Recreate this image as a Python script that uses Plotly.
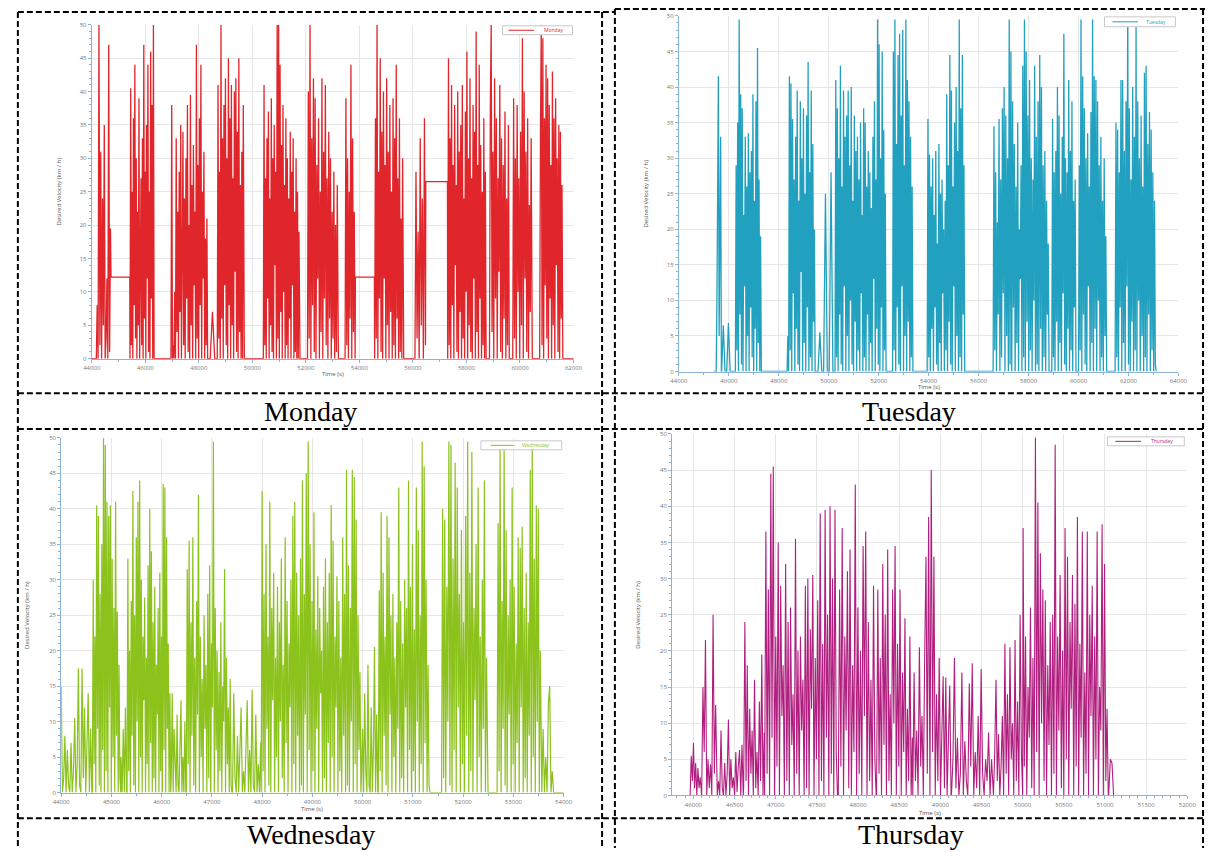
import numpy as np
import plotly.graph_objects as go

# ---------------------------------------------------------------- data
# Each day: list of (start, end) time windows in seconds and the
# velocity samples (km/h) recorded inside each window.
MON_SEGMENTS = [(44000, 44160), (44170, 44700), (44720, 45420), (45430, 46330), (46340, 46950),
                (46960, 48330), (48340, 48680), (48690, 49690), (49700, 50400), (50410, 51770),
                (51780, 52050), (52060, 53205), (53215, 53455), (53465, 53840), (53850, 54560),
                (54570, 55645), (55655, 56065), (56075, 56470), (56480, 57290), (57300, 58735),
                (58745, 58850), (58860, 59600), (59610, 59720), (59730, 60450), (60460, 60725),
                (60735, 61600), (61610, 62000)]
MON_VALUES = [
    [0, 0],
    [0, 8, 0, 50, 2, 31, 0, 24, 5, 35, 0, 3, 12, 0, 47, 1, 19.5],
    [12.2, 12.2],
    [0, 40.5, 2, 25, 0, 36, 8, 44, 3, 30, 0, 22, 5, 39, 0, 18, 27, 2, 33, 0, 47, 6, 28, 0, 35, 12, 44, 1, 25, 0, 46, 9, 38, 0, 50, 0],
    [0, 0],
    [0, 38, 0, 2, 0, 10, 0, 33, 4, 22, 0, 28, 7, 35, 0, 15, 34, 2, 24, 0, 30, 9, 38, 1, 20, 0, 39.5, 5, 26, 0, 32, 11, 22, 0, 47, 3, 29, 0, 36, 8, 44, 0, 25, 12, 31, 0, 18, 2, 21, 0],
    [0, 0, 7, 0, 0],
    [0, 41, 3, 28, 0, 50, 6, 33, 0, 38, 11, 42, 2, 30, 0, 45, 8, 36, 0, 41, 5, 27, 0, 40, 13, 42, 1, 34, 0, 45, 4, 26, 0, 31, 0, 38, 0],
    [0, 0],
    [0, 41, 2, 27, 0, 33, 9, 37, 0, 24, 5, 39, 1, 30, 0, 35, 14, 28, 0, 50, 3, 50, 0, 44, 7, 32, 0, 38, 10, 26, 0, 36, 2, 30, 0, 24, 6, 34, 0, 28, 11, 33, 0, 22, 1, 30, 0, 25, 0, 19, 0],
    [0, 0],
    [0, 40, 3, 50, 0, 33, 8, 42, 1, 39, 0, 29, 12, 36, 0, 25, 4, 42, 0, 31, 9, 41, 2, 27, 0, 34, 6, 30, 0, 22, 3, 28, 0, 20, 1, 26, 0],
    [0, 0],
    [0, 39, 2, 30, 0, 25, 6, 44, 0, 33, 4, 22, 0],
    [12.2, 12.2],
    [0, 36, 3, 50, 0, 28, 9, 45, 1, 34, 0, 40, 12, 29, 0, 42, 5, 31, 0, 38, 7, 25, 0, 39, 2, 33, 0, 44, 6, 27, 0, 36, 1, 21, 0, 30, 0],
    [0, 0],
    [0, 28, 3, 19, 0, 33, 5, 24, 0, 36, 2],
    [26.5, 26.5],
    [0, 45, 2, 33, 0, 41, 8, 29, 0, 38, 14, 26, 1, 40, 0, 31, 7, 35, 0, 41, 3, 24, 0, 37, 10, 46, 0, 30, 5, 42, 1, 27, 0, 38, 12, 34, 0, 49, 4, 29, 0, 44, 9, 32, 0, 25, 2, 36, 0, 28, 0],
    [0, 0],
    [0, 38, 50, 4, 31, 0, 42, 9, 36, 0, 27, 13, 41, 1, 33, 0, 29, 6, 37, 0, 24, 2, 35, 0],
    [0, 0],
    [0, 39, 3, 30, 0, 38, 10, 27, 0, 34, 5, 48, 0, 40, 12, 31, 1, 36, 0, 23, 7, 33, 0],
    [0, 0],
    [0, 33, 50, 2, 48, 0, 36, 11, 44, 3, 42, 0, 38, 9, 29, 0, 43, 5, 36, 0, 39, 14, 30, 1, 35, 0, 34, 6, 26, 0],
    [0, 0],
]

TUE_SEGMENTS = [(45400, 45480), (45490, 45700), (45710, 46050), (46060, 46250), (46260, 47330),
                (47340, 48320), (48330, 49485), (49495, 50240), (50250, 52325), (52335, 52545),
                (52555, 53400), (53410, 53930), (53940, 55475), (55485, 56570), (56580, 58855),
                (58865, 58920), (58930, 59930), (59940, 59995), (60000, 61160), (61170, 61455),
                (61465, 63110)]
TUE_VALUES = [
    [0, 0],
    [0, 9, 38, 41.5, 5, 32, 33, 0],
    [0, 6.5, 0, 0, 6.8, 0],
    [0, 0],
    [0, 29, 3, 35, 0, 49.5, 8, 39, 1, 37, 0, 22, 12, 33, 0, 26, 5, 33.5, 0, 28, 9, 31, 2, 39, 0, 24, 6, 38, 0, 45.5, 4, 27, 0, 19, 0, 0],
    [0, 0],
    [0, 5, 0, 41.5, 3, 40.5, 0, 35.5, 11, 27, 0, 33, 6, 39.5, 1, 24, 0, 38, 14, 30, 0, 37, 4, 25, 0, 36, 9, 43.5, 0, 28, 2, 39.5, 0, 32, 7, 20, 0, 0],
    [0, 0, 5.5, 0, 0, 25, 0, 0, 28, 0, 0],
    [0, 41, 2, 37, 0, 30, 8, 43, 1, 26, 0, 39.5, 12, 33, 0, 36, 5, 39.5, 0, 29, 10, 40, 1, 24, 0, 36, 7, 31, 0, 33, 3, 27, 0, 35, 11, 22, 0, 37, 2, 35, 0, 26, 8, 31, 0, 28, 4, 23, 0, 33, 13, 38, 0, 27, 6, 49.5, 1, 46, 0, 30, 9, 45, 0, 34, 3, 25, 0, 0],
    [0, 0],
    [0, 45, 3, 49.5, 0, 32, 9, 44.5, 1, 47.5, 0, 36, 12, 48, 0, 29, 5, 49.5, 0, 41, 7, 38, 0, 33, 2, 26, 0, 0],
    [0, 0],
    [0, 35.5, 2, 30.5, 0, 26, 6, 30, 0, 22, 9, 31, 1, 18, 0, 32, 4, 25, 0, 27, 11, 20, 0, 24, 3, 39, 0, 29, 7, 44.5, 1, 39.5, 0, 26, 12, 35, 0, 40, 5, 31, 0, 49.5, 2, 37, 0, 44.5, 8, 29, 0, 0],
    [0, 0],
    [0, 34.5, 3, 28, 0, 21, 8, 35.5, 0, 27, 2, 37, 11, 40, 0, 36, 5, 30, 0, 49.5, 1, 45, 0, 38, 9, 32, 0, 26, 4, 35, 0, 20, 13, 29, 0, 43, 2, 49.5, 0, 45, 7, 36, 0, 41, 3, 30, 0, 27, 10, 43, 0, 33, 1, 38, 0, 44.5, 6, 40, 0, 29, 2, 31, 0, 24, 8, 18, 0, 0],
    [0, 0],
    [0, 35.5, 2, 28, 0, 31, 7, 40, 0, 36, 4, 25, 0, 33, 11, 47.5, 1, 30, 0, 28, 6, 41, 0, 31, 3, 38, 0, 24, 9, 27, 0, 0],
    [0, 0],
    [0, 29, 3, 49.5, 0, 41.5, 8, 37, 1, 30, 0, 33.5, 12, 26, 0, 36.5, 4, 49.5, 0, 41.5, 6, 41, 0, 38, 10, 29, 0, 33, 2, 24, 0, 30, 5, 19, 0, 0],
    [0, 0],
    [0, 35, 2, 34, 0, 28, 9, 41, 0, 41, 4, 31, 0, 38, 12, 49.5, 1, 37, 0, 27, 7, 40, 0, 33, 3, 48.5, 0, 38, 10, 30, 0, 36, 5, 26, 0, 42, 2, 43, 0, 32, 8, 36.5, 0, 34, 3, 28, 0, 24, 1, 0],
]

WED_SEGMENTS = [(44000, 44610), (44620, 45185), (45190, 45300), (45310, 46180), (46190, 46480),
                (46490, 47400), (47410, 47970), (47980, 49965), (49975, 50300), (50310, 51340),
                (51350, 51560), (51570, 52485), (52495, 52665), (52675, 53555), (53565, 53800),
                (53810, 54000)]
WED_VALUES = [
    [15, 0, 2, 8, 0, 6, 1, 0, 7, 0, 3, 10.5, 0, 4, 17.5, 1, 0, 17.5, 2, 12, 0, 6, 14, 0, 9, 0],
    [0, 30, 4, 22, 0, 40.5, 9, 39, 1, 28, 0, 35, 6, 50, 0, 49, 3, 41, 0, 39, 12, 40.5, 0, 33, 5, 26, 0, 41, 8, 25.5, 0, 18, 2, 0],
    [5, 0, 9, 0, 12, 0],
    [0, 33, 3, 20, 0, 27, 8, 42.5, 1, 25, 0, 36, 10, 41, 0, 44, 5, 30, 0, 22, 13, 27.5, 0, 19, 4, 32, 0, 40, 7, 34, 0, 24, 2, 29, 0, 18, 11, 26, 0, 31, 3, 22, 0, 43.5, 6, 43, 0, 36, 9, 21, 0, 14, 0],
    [2, 14, 0, 9, 3, 0, 11, 1, 0, 7, 13, 0, 5, 0, 10, 0],
    [0, 31.5, 4, 35.5, 0, 24, 8, 36, 1, 19, 0, 27, 11, 42, 0, 22, 5, 16, 0, 25, 9, 18, 0, 28, 2, 32, 0, 21, 12, 49.5, 0, 26, 6, 20, 0, 17, 3, 24, 0, 15, 10, 31.5, 0, 19, 4, 12, 0, 16, 1, 0],
    [0, 14, 2, 0, 8, 0, 5, 12, 0, 3, 0, 9, 13, 0, 6, 0, 14.5, 1, 0, 11, 0, 4, 0, 7],
    [0, 42.5, 3, 28, 0, 35, 9, 22, 1, 41, 0, 26, 13, 31, 0, 19, 5, 29, 0, 24, 10, 33, 2, 18, 0, 36, 7, 27, 0, 21, 12, 30, 0, 39, 4, 41, 0, 31, 8, 25, 0, 33, 1, 44, 0, 28, 11, 45, 0, 49.5, 6, 35, 0, 27, 3, 39.5, 0, 23, 9, 30.5, 0, 26, 14, 20, 0, 29, 2, 33, 0, 24, 7, 31, 0, 40.5, 5, 35.5, 0, 22, 12, 30.5, 0, 27, 3, 19, 0, 36, 8, 28, 0, 45.5, 1, 32, 0, 26, 10, 45.5, 0, 44.5, 4, 38.5, 0, 25, 6, 17, 0],
    [2, 9, 0, 14, 3, 0, 18, 1, 0, 12, 0, 6, 20.5, 0, 11, 0],
    [0, 28.5, 3, 39.5, 0, 31, 8, 22, 1, 39, 0, 36, 11, 25, 0, 28, 5, 19, 0, 24, 9, 43, 0, 27, 2, 21, 0, 30, 12, 26, 0, 44, 6, 29, 0, 35, 3, 23, 0, 43, 10, 37, 0, 25, 4, 49.5, 0, 46, 7, 30, 0, 18, 1, 0],
    [0, 0],
    [0, 40, 2, 38.5, 0, 29, 10, 49.5, 1, 49, 0, 33, 6, 46.5, 0, 43, 12, 28, 0, 37, 4, 24, 0, 39, 8, 49.5, 0, 31, 3, 48, 0, 26, 13, 35, 0, 43, 5, 22, 0, 30, 9, 44, 0, 19, 0],
    [0, 0],
    [0, 38, 3, 48.5, 0, 27, 9, 48.5, 1, 37, 0, 25, 11, 30, 0, 43, 4, 29, 0, 21, 7, 36, 0, 34.5, 12, 37.5, 0, 26, 2, 31, 0, 24, 8, 45.5, 0, 49.5, 5, 33, 0, 40.5, 10, 40, 0, 20, 0],
    [0, 9, 0, 5, 0, 12.5, 15, 0, 3, 0],
    [0, 0],
]

THU_SEGMENTS = [(45840, 45955), (45960, 46095), (46100, 46285), (46290, 46605), (46610, 46860),
                (46865, 47750), (47760, 48220), (48225, 48660), (48665, 49130), (49135, 49640),
                (49645, 50000), (50005, 51040), (51045, 51105), (51110, 52000)]
THU_VALUES = [
    [0, 0],
    [0, 5.5, 2, 7.3, 1, 4.5, 0, 3.8, 1, 2.5, 0],
    [0, 15, 6, 21.5, 0, 5, 1, 4.3, 0, 25, 3, 12.5, 0],
    [0, 2, 0, 9, 1, 0, 4.5, 0, 3, 10.5, 0, 5, 1, 2.5, 0, 6, 0.5, 4, 6.3, 0, 7, 0],
    [1, 24, 2, 18, 0, 12, 3, 9, 0, 16, 1, 6, 0, 13, 2, 19.5, 0, 8.7],
    [0, 36.5, 3, 28.5, 0, 44.5, 8, 45.5, 0, 22, 4, 35, 0, 29, 11, 18, 0, 32, 2, 24, 0, 26, 7, 14, 0, 35.5, 3, 20, 0, 22, 9, 16, 0, 29, 1, 30, 0, 23, 12, 30.5, 0, 19, 5, 27, 0, 39, 2, 21, 0, 39.5, 8, 25, 0, 40, 3, 30, 0, 39.5, 6, 0],
    [0, 28.5, 4, 37, 0, 22, 9, 31, 1, 34, 0, 18, 6, 43, 0, 26, 3, 20, 0, 34.5, 11, 36.5, 0, 24, 2, 16, 0, 29, 5, 0],
    [0, 28.5, 3, 19, 0, 32, 7, 25, 0, 34, 2, 14, 0, 28.5, 10, 34.5, 0, 21, 4, 28.5, 0, 17, 6, 24.5, 0, 12, 2, 22, 0, 8],
    [0, 17, 2, 9, 0, 20.5, 4, 11, 0, 19, 33, 3, 38.5, 0, 45, 6, 33, 0, 14, 2, 19, 0, 8, 16.5, 1, 16.3, 0, 7, 15.2, 0],
    [0, 5, 19, 1, 8, 0, 3, 17, 0, 7.5, 2, 0, 15.5, 4, 18.3, 0, 6, 1, 11, 0, 17.5, 3, 0, 5, 2, 8.7, 0, 5, 0],
    [0, 6, 16, 2, 8.5, 0, 4, 11, 0, 21, 3, 14, 0, 20.5, 5, 10, 0, 21.5, 2, 13, 0, 25, 6, 0],
    [37, 4, 22, 0, 15, 8, 26, 1, 19, 0, 49.5, 6, 40.5, 0, 33.5, 10, 28.5, 2, 27, 0, 18, 7, 24, 0, 25, 3, 48.5, 0, 22, 9, 30.5, 1, 20, 0, 37, 5, 33, 0, 24, 12, 30.5, 0, 26.5, 4, 38.5, 0, 21, 8, 36.5, 0, 17, 3, 36.5, 0, 25, 11, 29, 0, 22, 5, 36.5, 0, 15, 9, 37.5, 0, 32, 2, 12, 0],
    [0, 5, 4.5, 0],
    [0, 0],
]

DAY_NAMES = ["Monday", "Tuesday", "Wednesday", "Thursday"]
MON_TICKS = [44000, 46000, 48000, 50000, 52000, 54000, 56000, 58000, 60000, 62000]
TUE_TICKS = [44000, 46000, 48000, 50000, 52000, 54000, 56000, 58000, 60000, 62000, 64000]
WED_TICKS = [44000, 45000, 46000, 47000, 48000, 49000, 50000, 51000, 52000, 53000, 54000]
THU_TICKS = [46000, 46500, 47000, 47500, 48000, 48500, 49000, 49500, 50000, 50500, 51000, 51500, 52000]
Y_TICKS = [0, 5, 10, 15, 20, 25, 30, 35, 40, 45, 50]
Y_TITLE = "Desired Velocity (km / h)"
X_TITLE = "Time (s)"

# ---------------------------------------------------------------- helpers
W, H = 1215, 852


def PX(x):
    return x / W


def PY(y):
    return 1 - y / H


def build(segments, values):
    t, v = [], []
    for (a, b), vals in zip(segments, values):
        t.extend(np.linspace(a, b, len(vals)).tolist())
        v.extend(vals)
    return t, v


COLORS = ["#e0262b", "#21a1bf", "#8cc21c", "#b01f7f"]
LINE_W = [1.3, 1.3, 1.2, 1.1]
AXIS_BLUE = "#8db4d8"
GRID = "#e6e6e6"
TICKFONT = dict(family="Open Sans, Arial", size=6, color="#777777")

# panel geometry in page pixels: (left, right, top, bottom)
PANELS = [
    (84, 573, 21, 358),
    (680, 1187, 12, 371),
    (53, 563, 438, 796),
    (673, 1196, 434, 799),
]
XRANGES = [[44000, 62000], [44000, 64000], [44000, 54000], [45740, 52000]]
XTICKS = [MON_TICKS, TUE_TICKS, WED_TICKS, THU_TICKS]
XMINOR = [1000, 1000, 500, 100]
DATA = [(MON_SEGMENTS, MON_VALUES), (TUE_SEGMENTS, TUE_VALUES),
        (WED_SEGMENTS, WED_VALUES), (THU_SEGMENTS, THU_VALUES)]

fig = go.Figure()
layout = dict(width=W, height=H, margin=dict(l=0, r=0, t=0, b=0),
              paper_bgcolor="white", plot_bgcolor="white", showlegend=False)

for i, ((segs, vals), name, color) in enumerate(zip(DATA, DAY_NAMES, COLORS)):
    t, v = build(segs, vals)
    sfx = "" if i == 0 else str(i + 1)
    fig.add_trace(go.Scatter(x=t, y=v, mode="lines", name=name,
                             line=dict(color=color, width=LINE_W[i]),
                             xaxis="x" + sfx, yaxis="y" + sfx, hoverinfo="skip"))
    l, r, tp, bt = PANELS[i]
    layout["xaxis" + sfx] = dict(
        domain=[PX(l), PX(r)], anchor="y" + sfx, range=XRANGES[i],
        tickmode="array", tickvals=XTICKS[i], ticktext=[str(k) for k in XTICKS[i]],
        showgrid=True, gridcolor=GRID, gridwidth=1, zeroline=False,
        showline=True, linecolor=AXIS_BLUE, linewidth=1,
        ticks="outside", ticklen=3, tickcolor=AXIS_BLUE, tickfont=TICKFONT,
        minor=dict(dtick=XMINOR[i], ticks="outside", ticklen=2, tickcolor=AXIS_BLUE, showgrid=False),
    )
    layout["yaxis" + sfx] = dict(
        domain=[PY(bt), PY(tp)], anchor="x" + sfx, range=[0, 50],
        tickmode="array", tickvals=Y_TICKS, ticktext=[str(k) for k in Y_TICKS],
        showgrid=True, gridcolor=GRID, gridwidth=1, zeroline=False,
        showline=True, linecolor=AXIS_BLUE, linewidth=1,
        ticks="outside", ticklen=3, tickcolor=AXIS_BLUE, tickfont=TICKFONT,
        minor=dict(dtick=1, ticks="outside", ticklen=2, tickcolor=AXIS_BLUE, showgrid=False),
    )

shapes = []
annotations = []

# table borders (dashed)
BORDER = dict(color="black", width=2, dash="6px,3px")


def hline(y, x0, x1):
    shapes.append(dict(type="line", xref="paper", yref="paper", x0=PX(x0), x1=PX(x1),
                       y0=PY(y), y1=PY(y), line=BORDER))


def vline(x, y0, y1):
    shapes.append(dict(type="line", xref="paper", yref="paper", x0=PX(x), x1=PX(x),
                       y0=PY(y0), y1=PY(y1), line=BORDER))


hline(8, 9, 615)
hline(5, 615, 1214)
hline(393, 9, 1214)
hline(429, 9, 1214)
hline(822, 9, 1214)
vline(9, 8, 852)
vline(602, 8, 852)
vline(615, 5, 852)
vline(1212, 5, 852)

# captions
CAPTIONS = [(306, 411), (914, 411), (307, 838), (916, 838)]
for name, (cx, cy) in zip(DAY_NAMES, CAPTIONS):
    annotations.append(dict(text=name, x=PX(cx), y=PY(cy), xref="paper", yref="paper",
                            showarrow=False, xanchor="center", yanchor="middle",
                            font=dict(family="Liberation Serif, Times New Roman", size=28, color="black")))

# axis titles
YT_POS = [(51, 189), (647, 191), (18, 617), (639, 617)]
XT_POS = [(329, 374), (934, 387), (308, 813), (935, 817)]
TITLEFONT = dict(family="Open Sans, Arial", size=6, color="#555555")
for (x, y) in YT_POS:
    annotations.append(dict(text=Y_TITLE, x=PX(x), y=PY(y), xref="paper", yref="paper",
                            showarrow=False, textangle=-90, xanchor="center", yanchor="middle",
                            font=TITLEFONT))
for (x, y) in XT_POS:
    annotations.append(dict(text=X_TITLE, x=PX(x), y=PY(y), xref="paper", yref="paper",
                            showarrow=False, xanchor="center", yanchor="middle", font=TITLEFONT))

# legend boxes: (box l, r, t, b), (line x0, x1), text centre x
LEGENDS = [
    ((501, 572, 22, 31), (507, 533), 553),
    ((1112, 1184, 13, 23), (1120, 1146), 1164),
    ((479, 561, 441, 450), (489, 513), 535),
    ((1115, 1193, 437, 446), (1123, 1149), 1170),
]
for (box, ln, tx), name, color in zip(LEGENDS, DAY_NAMES, COLORS):
    l, r, tp, bt = box
    shapes.append(dict(type="rect", xref="paper", yref="paper", x0=PX(l), x1=PX(r),
                       y0=PY(bt), y1=PY(tp), line=dict(color="#c8c8c8", width=1),
                       fillcolor="white", layer="above"))
    ym = (tp + bt) / 2
    shapes.append(dict(type="line", xref="paper", yref="paper", x0=PX(ln[0]), x1=PX(ln[1]),
                       y0=PY(ym), y1=PY(ym), line=dict(color=color, width=1), layer="above"))
    annotations.append(dict(text=name, x=PX(tx), y=PY(ym), xref="paper", yref="paper",
                            showarrow=False, xanchor="center", yanchor="middle",
                            font=dict(family="Open Sans, Arial", size=5, color=color)))

layout["shapes"] = shapes
layout["annotations"] = annotations
fig.update_layout(**layout)

fig.write_html("out.html", config={"displayModeBar": False},
               post_script="document.body.style.margin='0';document.body.style.overflow='hidden';")
